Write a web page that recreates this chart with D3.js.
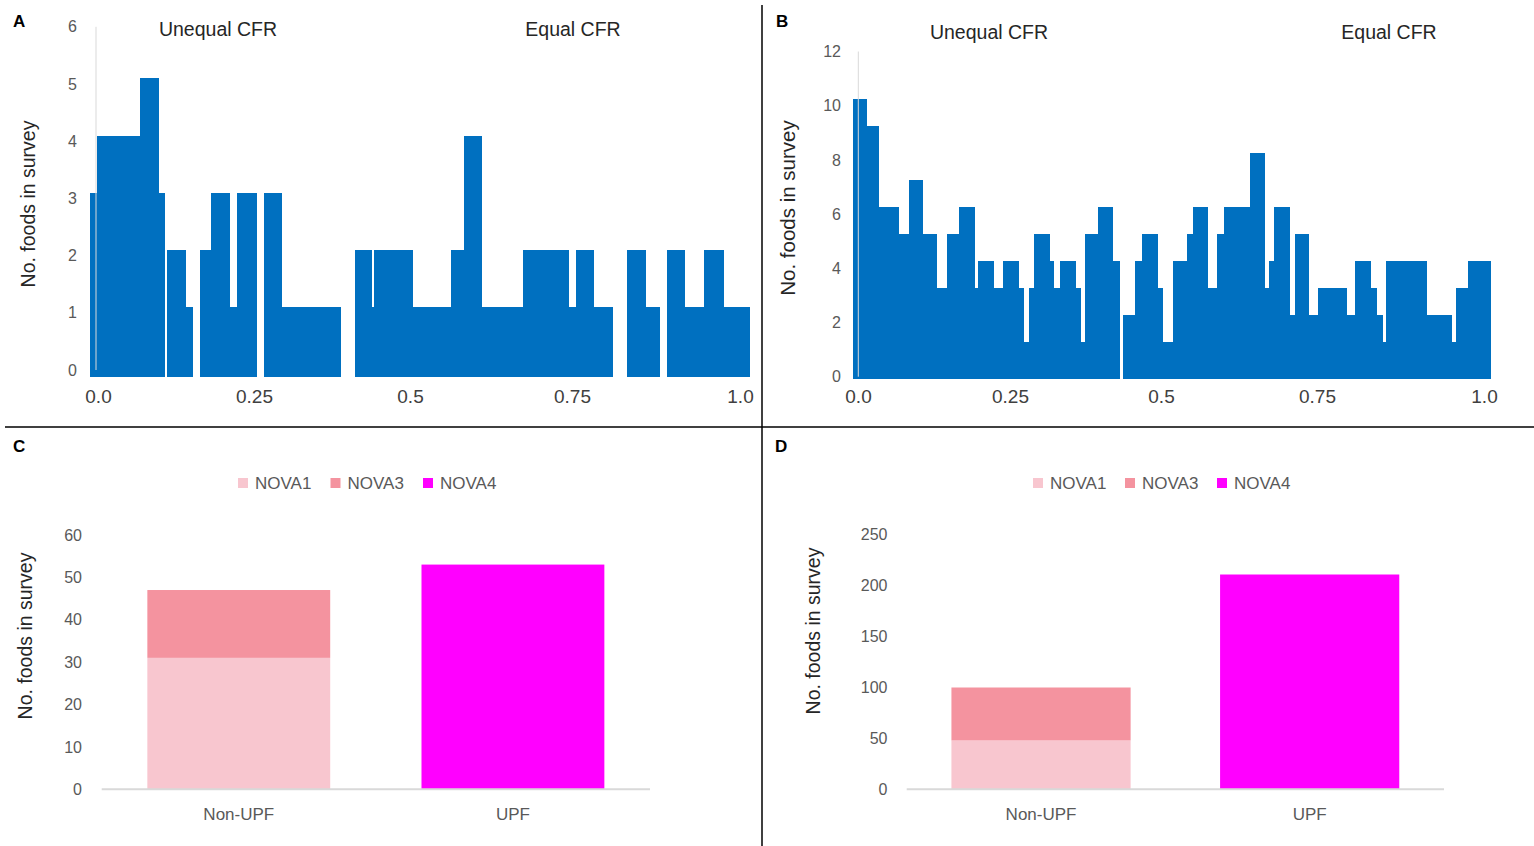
<!DOCTYPE html>
<html>
<head>
<meta charset="utf-8">
<script src="https://cdn.jsdelivr.net/npm/d3@7"></script>
<style>
  body { margin: 0; background: #fff; }
  svg text { font-family: "Liberation Sans", Arial, sans-serif; }
</style>
</head>
<body>
<svg id="chart" width="1534" height="846"></svg>
<script>
// ---------- DATA ----------
const cfrTicks = [0, 0.25, 0.5, 0.75, 1];
const cfrTickLabels = ["0.0", "0.25", "0.5", "0.75", "1.0"];
const zoneLabels = ["Unequal CFR", "Equal CFR"];

// Panel A: histogram bin edges (CFR) and counts per bin
const edgesA = [0, 0.010, 0.076, 0.104, 0.113, 0.117, 0.145, 0.156, 0.166, 0.184, 0.212, 0.222, 0.253, 0.263, 0.291, 0.381, 0.401, 0.428, 0.431, 0.490, 0.547, 0.567, 0.594, 0.656, 0.725, 0.737, 0.763, 0.792, 0.813, 0.843, 0.863, 0.874, 0.901, 0.931, 0.961, 1.0];
const countsA = [3, 4, 5, 3, 0, 2, 1, 0, 2, 3, 1, 3, 0, 3, 1, 0, 2, 1, 2, 1, 2, 4, 1, 2, 1, 2, 1, 0, 2, 1, 0, 2, 1, 2, 1];
const yTicksA = [0, 1, 2, 3, 4, 5, 6];

// Panel B
const edgesB = [0, 0.021, 0.041, 0.072, 0.087, 0.110, 0.132, 0.147, 0.166, 0.191, 0.195, 0.221, 0.235, 0.260, 0.268, 0.276, 0.284, 0.309, 0.315, 0.324, 0.349, 0.357, 0.364, 0.383, 0.408, 0.418, 0.423, 0.442, 0.453, 0.478, 0.486, 0.501, 0.523, 0.533, 0.557, 0.571, 0.582, 0.622, 0.645, 0.652, 0.660, 0.685, 0.692, 0.715, 0.729, 0.774, 0.787, 0.812, 0.821, 0.831, 0.835, 0.900, 0.939, 0.945, 0.964, 1.0];
const countsB = [10, 9, 6, 5, 7, 5, 3, 5, 6, 3, 4, 3, 4, 3, 1, 3, 5, 4, 3, 4, 3, 1, 5, 6, 4, 0, 2, 4, 5, 3, 1, 4, 5, 6, 3, 5, 6, 8, 3, 4, 6, 2, 5, 2, 3, 2, 4, 3, 2, 1, 4, 2, 1, 3, 4];
const yTicksB = [0, 2, 4, 6, 8, 10, 12];

// Panels C and D: stacked columns
const groups = ["Non-UPF", "UPF"];
const novaKeys = ["NOVA1", "NOVA3", "NOVA4"];
const novaColors = ["#F8C6CF", "#F4939F", "#FF00FF"];
const nova1C = [31, 0], nova3C = [16, 0], nova4C = [0, 53];
const nova1D = [48, 0], nova3D = [52, 0], nova4D = [0, 211];
const yTicksC = [0, 10, 20, 30, 40, 50, 60];
const yTicksD = [0, 50, 100, 150, 200, 250];
const yTitle = "No. foods in survey";
const panelLetters = ["A", "B", "C", "D"];

// ---------- DRAW ----------
const svg = d3.select("#chart");
const FONT = '"Liberation Sans", Arial, sans-serif';
const fmtInt = d3.format("d");

function drawHist(o) {
  const g = svg.append("g");
  const x = d3.scaleLinear([0, 1], [o.x0, o.x1]);
  const y = d3.scaleLinear([0, o.yMax], [o.yZero, o.yTop]);
  const bins = o.counts.map((c, i) => ({ a: o.edges[i], b: o.edges[i + 1], c }));
  g.selectAll("rect.bin").data(bins.filter(d => d.c > 0)).join("rect")
    .attr("class", "bin")
    .attr("x", d => x(d.a)).attr("width", d => x(d.b) - x(d.a))
    .attr("y", d => y(d.c)).attr("height", d => y(o.base) - y(d.c))
    .attr("fill", "#0070C0").attr("shape-rendering", "crispEdges");
  // vertical axis line over the bars
  g.append("line")
    .attr("x1", o.axisX).attr("x2", o.axisX)
    .attr("y1", y(o.yMax) + o.labDy).attr("y2", y(0) + o.labDy)
    .attr("stroke", "#D9D9D9").attr("stroke-width", 1);
  // y tick labels
  const gy = g.append("g").attr("transform", `translate(${o.labX},${o.labDy})`)
    .call(d3.axisLeft(y).tickValues(o.yTicks).tickFormat(fmtInt).tickSize(0).tickPadding(0));
  gy.select(".domain").remove();
  gy.attr("font-family", FONT).attr("font-size", 16);
  gy.selectAll("text").attr("fill", "#595959");
  // x tick labels
  const xl = d3.scaleLinear(cfrTicks, o.tickPx);
  const gx = g.append("g").attr("transform", `translate(0,${o.xLabY})`)
    .call(d3.axisBottom(xl).tickValues(cfrTicks).tickFormat((d, i) => cfrTickLabels[i]).tickSize(0).tickPadding(0));
  gx.select(".domain").remove();
  gx.attr("font-family", FONT).attr("font-size", 19);
  gx.selectAll("text").attr("fill", "#404040");
  // zone titles
  g.selectAll("text.zone").data(zoneLabels).join("text").attr("class", "zone")
    .attr("x", (d, i) => o.zoneX[i]).attr("y", o.zoneY)
    .attr("text-anchor", "middle").attr("font-size", 19.5).attr("fill", "#262626")
    .text(d => d);
  // y title
  g.append("text")
    .attr("transform", `translate(${o.titleX},${o.titleY}) rotate(-90)`)
    .attr("text-anchor", "middle").attr("dominant-baseline", "central")
    .attr("font-size", o.titleSize).attr("fill", "#262626").text(yTitle);
}

drawHist({
  edges: edgesA, counts: countsA, yTicks: yTicksA, yMax: 6,
  x0: 90, x1: 750, yZero: 364.3, yTop: 21.1, base: -0.217,
  axisX: 96, labX: 77, labDy: 5.7,
  tickPx: [98, 254, 410, 572, 740], xLabY: 389,
  zoneX: [218, 573], zoneY: 36,
  titleX: 28, titleY: 204, titleSize: 19.5
});

drawHist({
  edges: edgesB, counts: countsB, yTicks: yTicksB, yMax: 12,
  x0: 853.3, x1: 1491, yZero: 369.5, yTop: 44.3, base: -0.362,
  axisX: 858.3, labX: 841, labDy: 7.2,
  tickPx: [858, 1010, 1161, 1317, 1484], xLabY: 389,
  zoneX: [989, 1389], zoneY: 39,
  titleX: 787, titleY: 208, titleSize: 20.5
});

function drawBars(o) {
  const g = svg.append("g");
  const rows = groups.map((grp, i) => ({ group: grp, NOVA1: o.n1[i], NOVA3: o.n3[i], NOVA4: o.n4[i] }));
  const series = d3.stack().keys(novaKeys)(rows);
  const x = d3.scaleBand(groups, [o.ax0, o.ax1]).paddingInner(0.333).paddingOuter(0.1665);
  const y = d3.scaleLinear([0, o.yMax], [o.yZero, o.yTop]);
  const color = d3.scaleOrdinal(novaKeys, novaColors);
  g.selectAll("g.layer").data(series).join("g").attr("class", "layer")
    .attr("fill", d => color(d.key))
    .selectAll("rect").data(d => d.filter(s => s[1] - s[0] > 0)).join("rect")
    .attr("x", d => x(d.data.group)).attr("width", x.bandwidth())
    .attr("y", d => y(d[1])).attr("height", d => y(d[0]) - y(d[1]));
  // baseline
  g.append("line").attr("x1", o.ax0).attr("x2", o.ax1)
    .attr("y1", y(0)).attr("y2", y(0))
    .attr("stroke", "#D9D9D9").attr("stroke-width", 2);
  // y tick labels
  const gy = g.append("g").attr("transform", `translate(${o.labX},0)`)
    .call(d3.axisLeft(y).tickValues(o.yTicks).tickFormat(fmtInt).tickSize(0).tickPadding(0));
  gy.select(".domain").remove();
  gy.attr("font-family", FONT).attr("font-size", 16);
  gy.selectAll("text").attr("fill", "#595959");
  // category labels
  const gx = g.append("g").attr("transform", `translate(0,808)`)
    .call(d3.axisBottom(x).tickSize(0).tickPadding(0));
  gx.select(".domain").remove();
  gx.attr("font-family", FONT).attr("font-size", 17);
  gx.selectAll("text").attr("fill", "#595959");
  // legend
  const lg = g.selectAll("g.leg").data(novaKeys).join("g").attr("class", "leg")
    .attr("transform", (d, i) => `translate(${o.legX + i * o.legStep},478)`);
  lg.append("rect").attr("width", 10).attr("height", 10).attr("fill", d => color(d));
  lg.append("text").attr("x", 17).attr("y", 5).attr("dominant-baseline", "central")
    .attr("font-size", 17).attr("fill", "#595959").text(d => d);
  // y title
  g.append("text")
    .attr("transform", `translate(${o.titleX},${o.titleY}) rotate(-90)`)
    .attr("text-anchor", "middle").attr("dominant-baseline", "central")
    .attr("font-size", 19.5).attr("fill", "#262626").text(yTitle);
}

drawBars({
  n1: nova1C, n3: nova3C, n4: nova4C, yTicks: yTicksC, yMax: 60,
  ax0: 101.7, ax1: 650, yZero: 789.3, yTop: 534.9, labX: 82,
  legX: 238, legStep: 92.5, titleX: 25, titleY: 636
});

drawBars({
  n1: nova1D, n3: nova3D, n4: nova4D, yTicks: yTicksD, yMax: 250,
  ax0: 906.7, ax1: 1444, yZero: 789.3, yTop: 534.8, labX: 887.5,
  legX: 1033, legStep: 92, titleX: 813, titleY: 631
});

// panel dividers
svg.append("line").attr("x1", 762).attr("x2", 762).attr("y1", 5).attr("y2", 846)
  .attr("stroke", "#000").attr("stroke-width", 1.5);
svg.append("line").attr("x1", 5).attr("x2", 1534).attr("y1", 427).attr("y2", 427)
  .attr("stroke", "#000").attr("stroke-width", 1.5);

// panel letters
const letterPos = [[13, 27], [776, 27], [13, 452], [775, 452]];
svg.selectAll("text.letter").data(panelLetters).join("text").attr("class", "letter")
  .attr("x", (d, i) => letterPos[i][0]).attr("y", (d, i) => letterPos[i][1])
  .attr("font-size", 17).attr("font-weight", "bold").attr("fill", "#000")
  .text(d => d);
</script>
</body>
</html>
